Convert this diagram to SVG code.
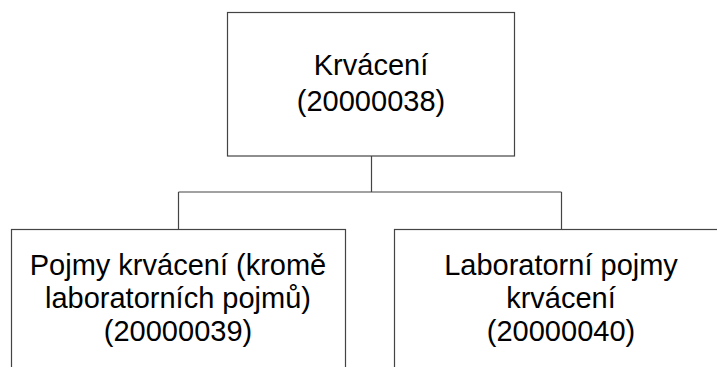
<svg xmlns="http://www.w3.org/2000/svg" width="717" height="367" viewBox="0 0 717 367">
<style>
.box{fill:#fff;stroke:#444;stroke-width:1.2}
.conn{fill:none;stroke:#444;stroke-width:1.2}
text{font-family:"Liberation Sans",Arial,sans-serif;font-size:29px;fill:#000;text-anchor:middle}
</style>
<rect width="717" height="367" fill="#fff"/>
<g id="connectors">
<path class="conn" d="M371.5 156 V192 M178.5 192 H561.5 M178.5 192 V229 M561.5 192 V229"/>
</g>
<g id="n20000038">
<rect class="box" x="227.5" y="12.5" width="287" height="143.5"/>
<text x="371" y="75">Krvácení</text>
<text x="371" y="111">(20000038)</text>
</g>
<g id="n20000039">
<rect class="box" x="11.5" y="229.5" width="334" height="150"/>
<text x="178" y="275">Pojmy krvácení (kromě</text>
<text x="178" y="308">laboratorních pojmů)</text>
<text x="178" y="341">(20000039)</text>
</g>
<g id="n20000040">
<rect class="box" x="394.5" y="229.5" width="334" height="150"/>
<text x="561" y="275">Laboratorní pojmy</text>
<text x="561" y="308">krvácení</text>
<text x="561" y="341">(20000040)</text>
</g>
</svg>
